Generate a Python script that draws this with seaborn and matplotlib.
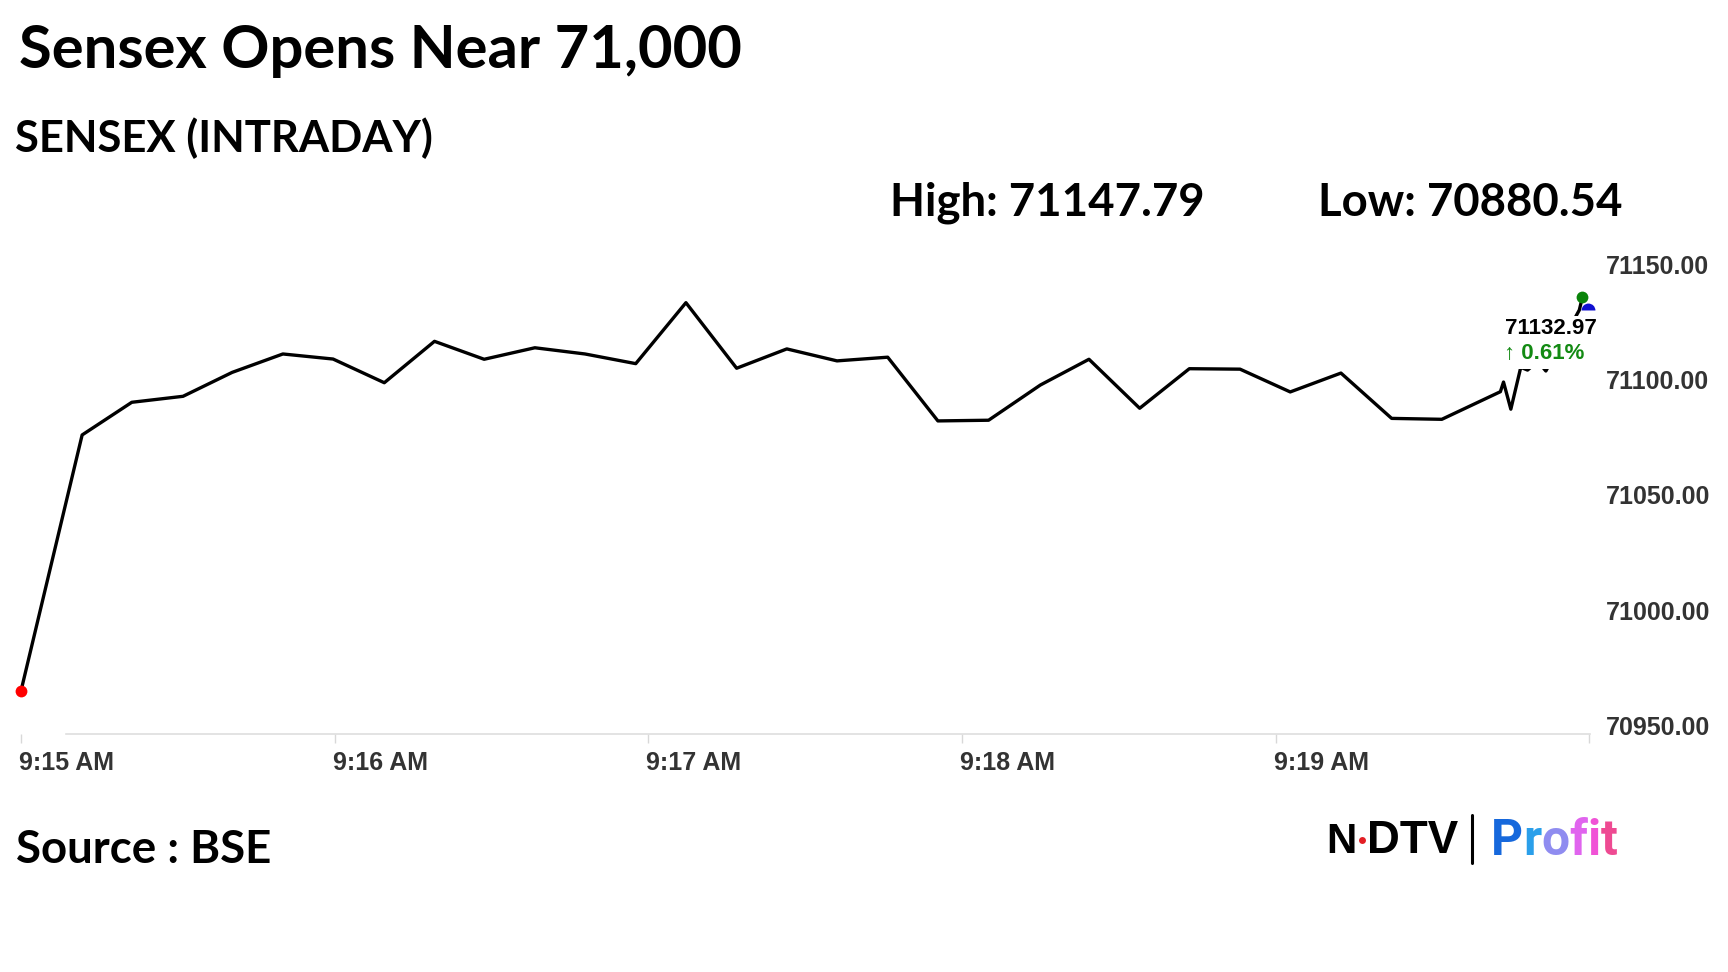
import pandas as pd
import matplotlib.pyplot as plt
import seaborn as sns
from matplotlib.transforms import ScaledTranslation

W, H = 1728, 972

# seconds after 9:15:00 and Sensex level
times = [0.0, 11.7, 21.2, 31.0, 40.4, 50.1, 59.7, 69.5, 79.1, 88.6,
         98.3, 107.9, 117.6, 127.2, 136.9, 146.5, 156.1, 165.8, 175.4, 185.1,
         195.0, 204.3, 214.0, 223.5, 233.2, 242.8, 252.5, 262.2, 271.8, 283.0,
         283.6, 285.0, 286.9, 288.2, 289.1, 290.9, 291.7, 298.1, 298.7]
values = [70964.8, 71076.1, 71090.3, 71092.9, 71103.3, 71111.3, 71109.1, 71098.8, 71116.8, 71109.0,
          71114.0, 71111.3, 71107.1, 71133.6, 71105.1, 71113.5, 71108.3, 71109.9, 71082.2, 71082.5,
          71097.8, 71109.0, 71087.7, 71104.9, 71104.7, 71094.8, 71103.0, 71083.3, 71082.9, 71094.9,
          71099.1, 71087.3, 71105.5, 71104.3, 71106.1, 71106.1, 71103.9, 71130.4, 71136.1]

x_ticks = [0, 60, 120, 180, 240, 300]
x_tick_labels = ["9:15 AM", "9:16 AM", "9:17 AM", "9:18 AM", "9:19 AM", ""]
y_ticks = [70950, 71000, 71050, 71100, 71150]

day_high = 71147.79
day_low = 70880.54
last_price = 71132.97
change_pct = 0.61

profit_letters = ["P", "r", "o", "f", "i", "t"]
profit_colors = ["#1668dc", "#2a9fea", "#8f8cf0", "#e064ee", "#f052d6", "#ee4a92"]

sns.set_theme(style="white")
plt.rcParams["font.family"] = ["Liberation Sans", "DejaVu Sans"]

fig = plt.figure(figsize=(W / 100, H / 100), dpi=100)
fig.patch.set_facecolor("white")
renderer = fig.canvas.get_renderer()


def fy(y):
    return 1 - y / H


def fit_text(s, x0, x1, y_base, family, color="black", weight="bold"):
    t = fig.text(x0 / W, fy(y_base), s, fontsize=40, family=family,
                 fontweight=weight, color=color, ha="left", va="baseline")
    w = t.get_window_extent(renderer).width
    t.set_fontsize(40 * (x1 - x0) / w)
    return t


# chart
ax = fig.add_axes([10 / W, (H - 734) / H, 1585 / W, 484 / H])
df = pd.DataFrame({"t": times, "price": values})
sns.lineplot(data=df, x="t", y="price", color="black", linewidth=2.4, ax=ax, zorder=3)
ax.set_xlim(-2.1, 301.1)
ax.set_ylim(70946.1, 71156.5)
ax.set_xlabel("")
ax.set_ylabel("")
ax.grid(False)
ax.set_facecolor("white")

ax.plot(times[0], values[0], "o", color="red", ms=8.5, mec="none", zorder=5)
ax.plot(times[-1], values[-1], "o", color="#0a840a", ms=8.5, mec="none", zorder=6)
blue = ax.plot(times[-1], last_price, "o", color="#1010d0", ms=10, mec="none",
               fillstyle="top", zorder=5)[0]
blue.set_transform(ax.transData + ScaledTranslation(0.06, -0.06, fig.dpi_scale_trans))

for s in ["top", "right", "left"]:
    ax.spines[s].set_visible(False)
ax.spines["bottom"].set_color("#dedede")
ax.spines["bottom"].set_linewidth(1.2)
ax.spines["bottom"].set_bounds(8.6, 300.2)

ax.set_xticks(x_ticks)
ax.set_xticklabels(x_tick_labels, ha="left", fontweight="bold")
ax.tick_params(axis="x", bottom=True, length=6.5, width=1, color="#d8d8d8",
               pad=6, labelsize=18, labelcolor="#333333")
for lab in ax.get_xticklabels():
    lab.set_transform(lab.get_transform() + ScaledTranslation(-0.02, 0, fig.dpi_scale_trans))

ax.yaxis.tick_right()
ax.set_yticks(y_ticks)
ax.set_yticklabels([f"{v:.2f}" for v in y_ticks], fontweight="bold")
ax.tick_params(axis="y", right=False, length=0, pad=8, labelsize=18, labelcolor="#333333")

# last price label
ax.annotate(f"{last_price:.2f}", xy=(times[-1], values[-1]), xytext=(-32, -32),
            textcoords="offset pixels", ha="center", va="center", fontsize=16,
            fontweight="bold", color="black", zorder=7,
            bbox=dict(facecolor="white", edgecolor="none", pad=2))
ax.annotate(f"\u2191 {change_pct:.2f}%", xy=(times[-1], values[-1]), xytext=(-38, -57),
            textcoords="offset pixels", ha="center", va="center", fontsize=16,
            fontweight="bold", color="#138a13", zorder=7,
            bbox=dict(facecolor="white", edgecolor="none", pad=3))

# headings
fit_text("Sensex Opens Near 71,000", 18.7, 741.7, 68, "Lato")
fit_text("SENSEX (INTRADAY)", 15.4, 433, 151.7, "Lato")
fit_text(f"High: {day_high:.2f}", 890.5, 1205.6, 216, "Lato")
fit_text(f"Low: {day_low:.2f}", 1318, 1622, 216, "Lato")
fit_text("Source : BSE", 16, 271.7, 863.3, "Lato")

# logo
fit_text("N", 1326.7, 1357, 853.3, "Liberation Sans", weight="heavy")
fit_text("DTV", 1367, 1458.3, 853.3, "Liberation Sans", weight="heavy")
fig.add_artist(plt.Line2D([1362.3 / W], [fy(840)], marker="o", color="#e31e24", ms=5, mec="none"))
fig.add_artist(plt.Line2D([1472 / W, 1472 / W], [fy(815), fy(863)], color="black", lw=2.2))

word = fit_text("".join(profit_letters), 1490.7, 1616.7, 855, "Roboto")
size = word.get_fontsize()
word.remove()
for i, (ch, col) in enumerate(zip(profit_letters, profit_colors)):
    if i == 0:
        dx = 0
    else:
        probe = fig.text(0, 0, "".join(profit_letters[:i]), fontsize=size, family="Roboto",
                         fontweight="bold")
        dx = probe.get_window_extent(renderer).width
        probe.remove()
    fig.text((1490.7 + dx) / W, fy(855), ch, fontsize=size, family="Roboto",
             fontweight="bold", color=col, ha="left", va="baseline")

fig.savefig("out.png", dpi=100, facecolor="white")
